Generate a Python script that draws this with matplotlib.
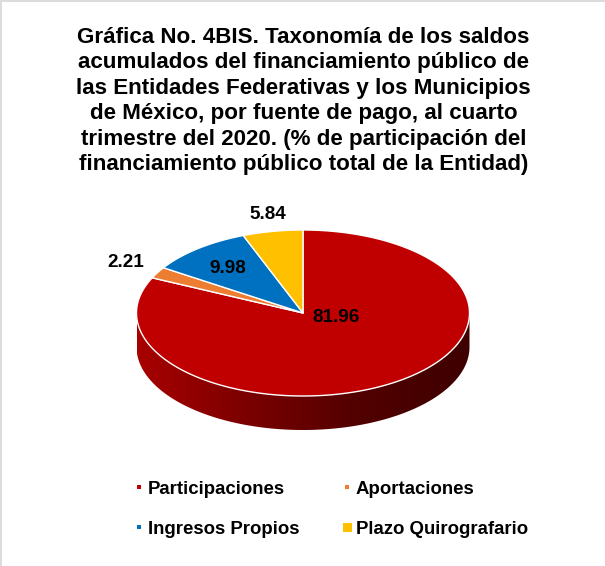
import numpy as np
import matplotlib
matplotlib.use("Agg")
import matplotlib.pyplot as plt
from matplotlib.colors import LinearSegmentedColormap
from matplotlib.patches import Polygon, Rectangle

plt.rcParams['font.family'] = ['Liberation Sans', 'DejaVu Sans']

titulo = ("Gráfica No. 4BIS. Taxonomía de los saldos\n"
          "acumulados del financiamiento público de\n"
          "las Entidades Federativas y los Municipios\n"
          "de México, por fuente de pago, al cuarto\n"
          "trimestre del 2020. (% de participación del\n"
          "financiamiento público total de la Entidad)")
categorias = ["Participaciones", "Aportaciones", "Ingresos Propios", "Plazo Quirografario"]
valores = [81.96, 2.21, 9.98, 5.84]
colores = ["#c00000", "#ed7d31", "#0070c0", "#ffc000"]

# geometria del pastel, en pixeles
cx, cy = 303, 313
rx, ry = 166.5, 83
prof = 34


def punto(ang):  # angulo en grados, desde las 12 y en sentido horario
    t = np.radians(ang)
    return cx + rx * np.sin(t), cy - ry * np.cos(t)


fig = plt.figure(figsize=(6.05, 5.66), dpi=100, facecolor="white")
ax = fig.add_axes([0, 0, 1, 1])

# pared lateral con degradado
t = np.linspace(90, 270, 200)
xs, ys = punto(t)
pared = np.concatenate([np.column_stack([xs, ys + prof]),
                        np.column_stack([xs, ys])[::-1]])
clip = Polygon(pared, closed=True, transform=ax.transData, fc="none", ec="none")
ax.add_patch(clip)
cmap = LinearSegmentedColormap.from_list("lado", ["#3e0000", "#520000", "#7a0000", "#a80000"])
grad = np.linspace(0, 1, 256)[np.newaxis, :][:, ::-1]
im = ax.imshow(grad, cmap=cmap, extent=[cx - rx, cx + rx, cy + ry + prof, cy],
               aspect="auto", zorder=1)
im.set_clip_path(clip)

# rebanadas, desde las 12 en sentido horario
ini = 0
total = sum(valores)
for val, col in zip(valores, colores):
    fin = ini + val / total * 360
    a = np.linspace(ini, fin, max(int(fin - ini) * 2, 8))
    x, y = punto(a)
    pts = np.column_stack([np.r_[cx, x], np.r_[cy, y]])
    ax.add_patch(Polygon(pts, closed=True, fc=col, ec="white", lw=1.0, zorder=2, joinstyle="round"))
    ini = fin

# etiquetas de datos
pos_etiq = [(336, 317.5), (125.5, 262.5), (228, 268.5), (268, 214.5)]
for val, (px, py) in zip(valores, pos_etiq):
    ax.text(px, py, f"{val:.2f}", ha="center", va="center", fontsize=13.6,
            fontweight="bold", color="black", zorder=3)

ax.text(303.5, 101, titulo, ha="center", va="center", fontsize=16.1, fontweight="bold",
        color="black", linespacing=1.275, multialignment="center")

# leyenda
pos_leyenda = [(139, 487, 4), (347, 487, 4), (139, 527, 4), (347, 527, 9)]
for nom, col, (px, py, lado) in zip(categorias, colores, pos_leyenda):
    ax.add_patch(Rectangle((px - lado / 2, py - lado / 2), lado, lado, fc=col, ec="none"))
    ax.text(px + 9, py + 2, nom, ha="left", va="center", fontsize=13.4,
            fontweight="bold", color="black")

# marco gris del recorte
ax.add_patch(Rectangle((0, 0), 605, 2, fc="#dcdcdc", ec="none"))
ax.add_patch(Rectangle((0, 0), 2, 566, fc="#dcdcdc", ec="none"))

ax.set_xlim(0, 605)
ax.set_ylim(566, 0)
ax.axis("off")

fig.savefig("out.png", dpi=100, facecolor="white")
